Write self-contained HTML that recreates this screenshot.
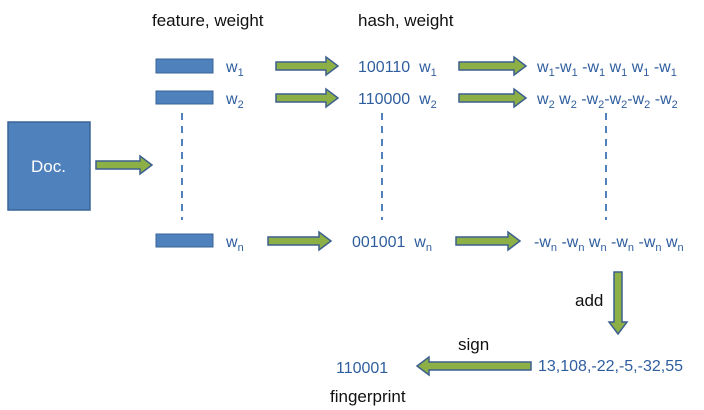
<!DOCTYPE html>
<html><head><style>
body{margin:0;background:#fff;}
svg{display:block;font-family:"Liberation Sans",sans-serif;}
.b{fill:#2F5E9E;font-size:16px;}
.k{fill:#111;font-size:17px;}
.a{fill:#8DB046;stroke:#3C5F8E;stroke-width:1.5;}
</style></head><body>
<svg width="704" height="410" viewBox="0 0 704 410">
<text class="k" x="152" y="26">feature, weight</text>
<text class="k" x="358" y="26">hash, weight</text>
<rect x="8" y="122" width="82" height="88" fill="#4F81BD" stroke="#3A6496" stroke-width="1.5"/>
<text x="31" y="172" fill="#fff" font-size="17">Doc.</text>
<path class="a" d="M96 161h44v-5l12 9l-12 9v-5h-44z"/>
<rect x="156" y="59" width="57" height="14" fill="#4F81BD" stroke="#3A6496"/>
<rect x="156" y="91" width="57" height="13" fill="#4F81BD" stroke="#3A6496"/>
<rect x="156" y="234" width="57" height="13" fill="#4F81BD" stroke="#3A6496"/>
<g class="b">
<text x="226" y="72">w<tspan font-size="11" dy="4">1</tspan></text>
<text x="226" y="104">w<tspan font-size="11" dy="4">2</tspan></text>
<text x="226" y="247">w<tspan font-size="11" dy="4">n</tspan></text>
<text x="358" y="72">100110 &#160;w<tspan font-size="11" dy="4">1</tspan></text>
<text x="358" y="104">110000 &#160;w<tspan font-size="11" dy="4">2</tspan></text>
<text x="352" y="247">001001 &#160;w<tspan font-size="11" dy="4">n</tspan></text>
<text x="537" y="72" font-size="16">w<tspan font-size="11" dy="4">1</tspan><tspan dy="-4">-w</tspan><tspan font-size="11" dy="4">1</tspan><tspan dy="-4"> -w</tspan><tspan font-size="11" dy="4">1</tspan><tspan dy="-4"> w</tspan><tspan font-size="11" dy="4">1</tspan><tspan dy="-4"> w</tspan><tspan font-size="11" dy="4">1</tspan><tspan dy="-4"> -w</tspan><tspan font-size="11" dy="4">1</tspan></text>
<text x="537" y="104" font-size="16">w<tspan font-size="11" dy="4">2</tspan><tspan dy="-4"> w</tspan><tspan font-size="11" dy="4">2</tspan><tspan dy="-4"> -w</tspan><tspan font-size="11" dy="4">2</tspan><tspan dy="-4">-w</tspan><tspan font-size="11" dy="4">2</tspan><tspan dy="-4">-w</tspan><tspan font-size="11" dy="4">2</tspan><tspan dy="-4">  -w</tspan><tspan font-size="11" dy="4">2</tspan></text>
<text x="534" y="247" font-size="16">-w<tspan font-size="11" dy="4">n</tspan><tspan dy="-4"> -w</tspan><tspan font-size="11" dy="4">n</tspan><tspan dy="-4"> w</tspan><tspan font-size="11" dy="4">n</tspan><tspan dy="-4"> -w</tspan><tspan font-size="11" dy="4">n</tspan><tspan dy="-4"> -w</tspan><tspan font-size="11" dy="4">n</tspan><tspan dy="-4"> w</tspan><tspan font-size="11" dy="4">n</tspan></text>
<text x="538" y="371">13,108,-22,-5,-32,55</text>
<text x="336" y="373">110001</text>
</g>
<text class="k" x="575" y="306" font-size="16">add</text>
<text class="k" x="458" y="350" font-size="16">sign</text>
<text class="k" x="330" y="402" font-size="16">fingerprint</text>
<g class="a">
<path d="M276 62h50v-5l12 9l-12 9v-5h-50z"/>
<path d="M276 94h50v-5l12 9l-12 9v-5h-50z"/>
<path d="M268 237h51v-5l12 9l-12 9v-5h-51z"/>
<path d="M459 62h55v-5l12 9l-12 9v-5h-55z"/>
<path d="M459 94h55v-5l12 9l-12 9v-5h-55z"/>
<path d="M456 237h52v-5l12 9l-12 9v-5h-52z"/>
<path d="M614 272h8v50h5l-9 12l-9-12h5z"/>
<path d="M531 362h-102v-5l-12 9l12 9v-5h102z"/>
</g>
<g stroke="#4F81BD" stroke-width="2" stroke-dasharray="7,6">
<line x1="182" y1="113" x2="182" y2="220"/>
<line x1="382" y1="113" x2="382" y2="220"/>
<line x1="606" y1="113" x2="606" y2="220"/>
</g>
</svg>
</body></html>
